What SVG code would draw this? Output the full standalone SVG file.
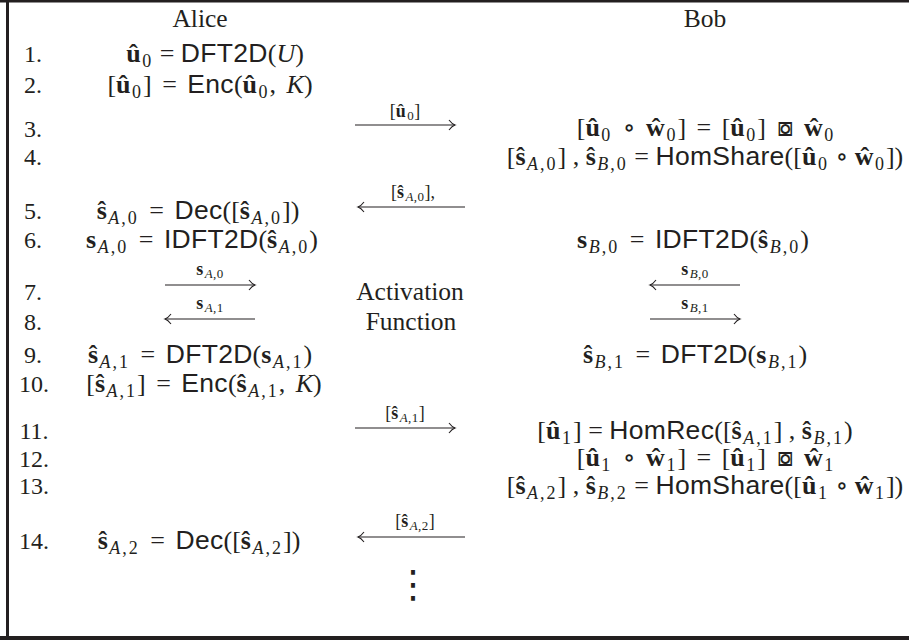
<svg xmlns="http://www.w3.org/2000/svg" width="909" height="640" viewBox="0 0 909 640">
<style>
.t{font-family:"Liberation Serif","DejaVu Serif",serif;font-size:26px;fill:#231f20;word-spacing:4px;text-anchor:middle}
.tn{word-spacing:0px}
.w{font-family:"Liberation Serif","DejaVu Serif",serif;font-size:25.5px;fill:#231f20;text-anchor:middle}
.n{font-family:"Liberation Serif","DejaVu Serif",serif;font-size:24px;fill:#231f20;text-anchor:middle}
.l{font-family:"Liberation Serif","DejaVu Serif",serif;font-size:18px;fill:#231f20;text-anchor:middle}
.b{font-weight:bold;letter-spacing:1.5px}
.i{font-style:italic}
.sf{font-family:"Liberation Sans","DejaVu Sans",sans-serif;font-size:26.5px;letter-spacing:0.3px}
.s{font-size:18px;letter-spacing:2px}
.ls{font-size:13px;letter-spacing:0.5px}
.sym{font-family:"DejaVu Sans",sans-serif;font-size:26px}
.ar{stroke:#231f20;stroke-width:1.1;fill:none;marker-end:url(#ah)}
</style>
<defs>
<marker id="ah" markerUnits="userSpaceOnUse" markerWidth="14" markerHeight="14" viewBox="-8 -7 10 14" refX="0" refY="0" orient="auto">
<path d="M-6,-5 Q-3,-1 0,0 Q-3,1 -6,5" fill="none" stroke="#231f20" stroke-width="1.1"/>
</marker>
</defs>
<rect x="0" y="0" width="909" height="640" fill="#ffffff"/>
<g id="frame">
<line x1="0" y1="1" x2="909" y2="1" stroke="#231f20" stroke-width="3"/>
<line x1="7.5" y1="0" x2="7.5" y2="640" stroke="#231f20" stroke-width="3"/>
<line x1="0" y1="638" x2="909" y2="638" stroke="#231f20" stroke-width="4"/>
</g>
<g id="headers">
<text class="w" x="200" y="27">Alice</text>
<text class="w" x="705" y="27">Bob</text>
</g>
<g id="numbers">
<text class="n" x="33" y="62">1.</text>
<text class="n" x="33" y="93">2.</text>
<text class="n" x="33" y="137">3.</text>
<text class="n" x="33" y="165">4.</text>
<text class="n" x="33" y="219">5.</text>
<text class="n" x="33" y="248">6.</text>
<text class="n" x="33" y="300">7.</text>
<text class="n" x="33" y="330">8.</text>
<text class="n" x="33" y="363">9.</text>
<text class="n" x="34" y="392">10.</text>
<text class="n" x="34" y="439">11.</text>
<text class="n" x="34" y="467">12.</text>
<text class="n" x="34" y="494">13.</text>
<text class="n" x="34" y="549">14.</text>
</g>
<g id="alice">
<text id="a1" class="t tn" x="215" y="62"><tspan class="b">û</tspan><tspan class="s" dy="5">0</tspan><tspan dy="-5"> = </tspan><tspan class="sf">DFT2D</tspan>(<tspan class="i">U</tspan>)</text>
<text id="a2" class="t" x="210" y="93">[<tspan class="b">û</tspan><tspan class="s" dy="5">0</tspan><tspan dy="-5">] = </tspan><tspan class="sf">Enc</tspan>(<tspan class="b">û</tspan><tspan class="s" dy="5">0</tspan><tspan dy="-5">, </tspan><tspan class="i">K</tspan>)</text>
<text id="a5" class="t" x="198" y="219"><tspan class="b">ŝ</tspan><tspan class="s" dy="5"><tspan class="i">A</tspan>,0</tspan><tspan dy="-5"> = </tspan><tspan class="sf">Dec</tspan>([<tspan class="b">ŝ</tspan><tspan class="s" dy="5"><tspan class="i">A</tspan>,0</tspan><tspan dy="-5">])</tspan></text>
<text id="a6" class="t" x="202" y="248"><tspan class="b">s</tspan><tspan class="s" dy="5"><tspan class="i">A</tspan>,0</tspan><tspan dy="-5"> = </tspan><tspan class="sf">IDFT2D</tspan>(<tspan class="b">ŝ</tspan><tspan class="s" dy="5"><tspan class="i">A</tspan>,0</tspan><tspan dy="-5">)</tspan></text>
<text id="a9" class="t" x="200" y="363"><tspan class="b">ŝ</tspan><tspan class="s" dy="5"><tspan class="i">A</tspan>,1</tspan><tspan dy="-5"> = </tspan><tspan class="sf">DFT2D</tspan>(<tspan class="b">s</tspan><tspan class="s" dy="5"><tspan class="i">A</tspan>,1</tspan><tspan dy="-5">)</tspan></text>
<text id="a10" class="t" x="204" y="392">[<tspan class="b">ŝ</tspan><tspan class="s" dy="5"><tspan class="i">A</tspan>,1</tspan><tspan dy="-5">] = </tspan><tspan class="sf">Enc</tspan>(<tspan class="b">ŝ</tspan><tspan class="s" dy="5"><tspan class="i">A</tspan>,1</tspan><tspan dy="-5">, </tspan><tspan class="i">K</tspan>)</text>
<text id="a14" class="t" x="199" y="549"><tspan class="b">ŝ</tspan><tspan class="s" dy="5"><tspan class="i">A</tspan>,2</tspan><tspan dy="-5"> = </tspan><tspan class="sf">Dec</tspan>([<tspan class="b">ŝ</tspan><tspan class="s" dy="5"><tspan class="i">A</tspan>,2</tspan><tspan dy="-5">])</tspan></text>
</g>
<g id="middle">
<text class="w" x="410" y="300">Activation</text>
<text class="w" x="411" y="330">Function</text>
<text class="w" x="413" y="597" style="font-family:'DejaVu Sans',sans-serif;font-size:38px">⋮</text>
</g>
<g id="bob">
<text id="b3" class="t" x="706" y="136">[<tspan class="b">û</tspan><tspan class="s" dy="5">0</tspan><tspan dy="-5"> ∘ </tspan><tspan class="b">ŵ</tspan><tspan class="s" dy="5">0</tspan><tspan dy="-5">] = [</tspan><tspan class="b">û</tspan><tspan class="s" dy="5">0</tspan><tspan dy="-5">] </tspan><tspan class="sym">⧇</tspan> <tspan class="b">ŵ</tspan><tspan class="s" dy="5">0</tspan></text>
<text id="b4" class="t tn" x="705" y="165">[<tspan class="b">ŝ</tspan><tspan class="s" dy="5"><tspan class="i">A</tspan>,0</tspan><tspan dy="-5">] , </tspan><tspan class="b">ŝ</tspan><tspan class="s" dy="5"><tspan class="i">B</tspan>,0</tspan><tspan dy="-5"> = </tspan><tspan class="sf">HomShare</tspan>([<tspan class="b">û</tspan><tspan class="s" dy="5">0</tspan><tspan dy="-5"> ∘ </tspan><tspan class="b">ŵ</tspan><tspan class="s" dy="5">0</tspan><tspan dy="-5">])</tspan></text>
<text id="b6" class="t" x="693" y="248"><tspan class="b">s</tspan><tspan class="s" dy="5"><tspan class="i">B</tspan>,0</tspan><tspan dy="-5"> = </tspan><tspan class="sf">IDFT2D</tspan>(<tspan class="b">ŝ</tspan><tspan class="s" dy="5"><tspan class="i">B</tspan>,0</tspan><tspan dy="-5">)</tspan></text>
<text id="b9" class="t" x="695" y="363"><tspan class="b">ŝ</tspan><tspan class="s" dy="5"><tspan class="i">B</tspan>,1</tspan><tspan dy="-5"> = </tspan><tspan class="sf">DFT2D</tspan>(<tspan class="b">s</tspan><tspan class="s" dy="5"><tspan class="i">B</tspan>,1</tspan><tspan dy="-5">)</tspan></text>
<text id="b11" class="t tn" x="695" y="439">[<tspan class="b">û</tspan><tspan class="s" dy="5">1</tspan><tspan dy="-5">] = </tspan><tspan class="sf">HomRec</tspan>([<tspan class="b">ŝ</tspan><tspan class="s" dy="5"><tspan class="i">A</tspan>,1</tspan><tspan dy="-5">] , </tspan><tspan class="b">ŝ</tspan><tspan class="s" dy="5"><tspan class="i">B</tspan>,1</tspan><tspan dy="-5">)</tspan></text>
<text id="b12" class="t" x="706" y="466">[<tspan class="b">û</tspan><tspan class="s" dy="5">1</tspan><tspan dy="-5"> ∘ </tspan><tspan class="b">ŵ</tspan><tspan class="s" dy="5">1</tspan><tspan dy="-5">] = [</tspan><tspan class="b">û</tspan><tspan class="s" dy="5">1</tspan><tspan dy="-5">] </tspan><tspan class="sym">⧇</tspan> <tspan class="b">ŵ</tspan><tspan class="s" dy="5">1</tspan></text>
<text id="b13" class="t tn" x="705" y="494">[<tspan class="b">ŝ</tspan><tspan class="s" dy="5"><tspan class="i">A</tspan>,2</tspan><tspan dy="-5">] , </tspan><tspan class="b">ŝ</tspan><tspan class="s" dy="5"><tspan class="i">B</tspan>,2</tspan><tspan dy="-5"> = </tspan><tspan class="sf">HomShare</tspan>([<tspan class="b">û</tspan><tspan class="s" dy="5">1</tspan><tspan dy="-5"> ∘ </tspan><tspan class="b">ŵ</tspan><tspan class="s" dy="5">1</tspan><tspan dy="-5">])</tspan></text>
</g>
<g id="connectors">
<line class="ar" x1="355" y1="125" x2="455" y2="125"/>
<text class="l" x="405" y="117">[<tspan class="b">û</tspan><tspan class="ls" dy="3">0</tspan><tspan dy="-3">]</tspan></text>
<line class="ar" x1="465" y1="207" x2="358" y2="207"/>
<text class="l" x="413" y="198">[<tspan class="b">ŝ</tspan><tspan class="ls" dy="3"><tspan class="i">A</tspan>,0</tspan><tspan dy="-3">],</tspan></text>
<line class="ar" x1="165" y1="285" x2="255" y2="285"/>
<text class="l" x="210" y="275"><tspan class="b">s</tspan><tspan class="ls" dy="3"><tspan class="i">A</tspan>,0</tspan></text>
<line class="ar" x1="255" y1="319" x2="165" y2="319"/>
<text class="l" x="210" y="309"><tspan class="b">s</tspan><tspan class="ls" dy="3"><tspan class="i">A</tspan>,1</tspan></text>
<line class="ar" x1="740" y1="285" x2="650" y2="285"/>
<text class="l" x="695" y="275"><tspan class="b">s</tspan><tspan class="ls" dy="3"><tspan class="i">B</tspan>,0</tspan></text>
<line class="ar" x1="650" y1="319" x2="740" y2="319"/>
<text class="l" x="695" y="309"><tspan class="b">s</tspan><tspan class="ls" dy="3"><tspan class="i">B</tspan>,1</tspan></text>
<line class="ar" x1="355" y1="428" x2="455" y2="428"/>
<text class="l" x="405" y="419">[<tspan class="b">ŝ</tspan><tspan class="ls" dy="3"><tspan class="i">A</tspan>,1</tspan><tspan dy="-3">]</tspan></text>
<line class="ar" x1="465" y1="537" x2="358" y2="537"/>
<text class="l" x="415" y="527">[<tspan class="b">ŝ</tspan><tspan class="ls" dy="3"><tspan class="i">A</tspan>,2</tspan><tspan dy="-3">]</tspan></text>
</g>
</svg>
